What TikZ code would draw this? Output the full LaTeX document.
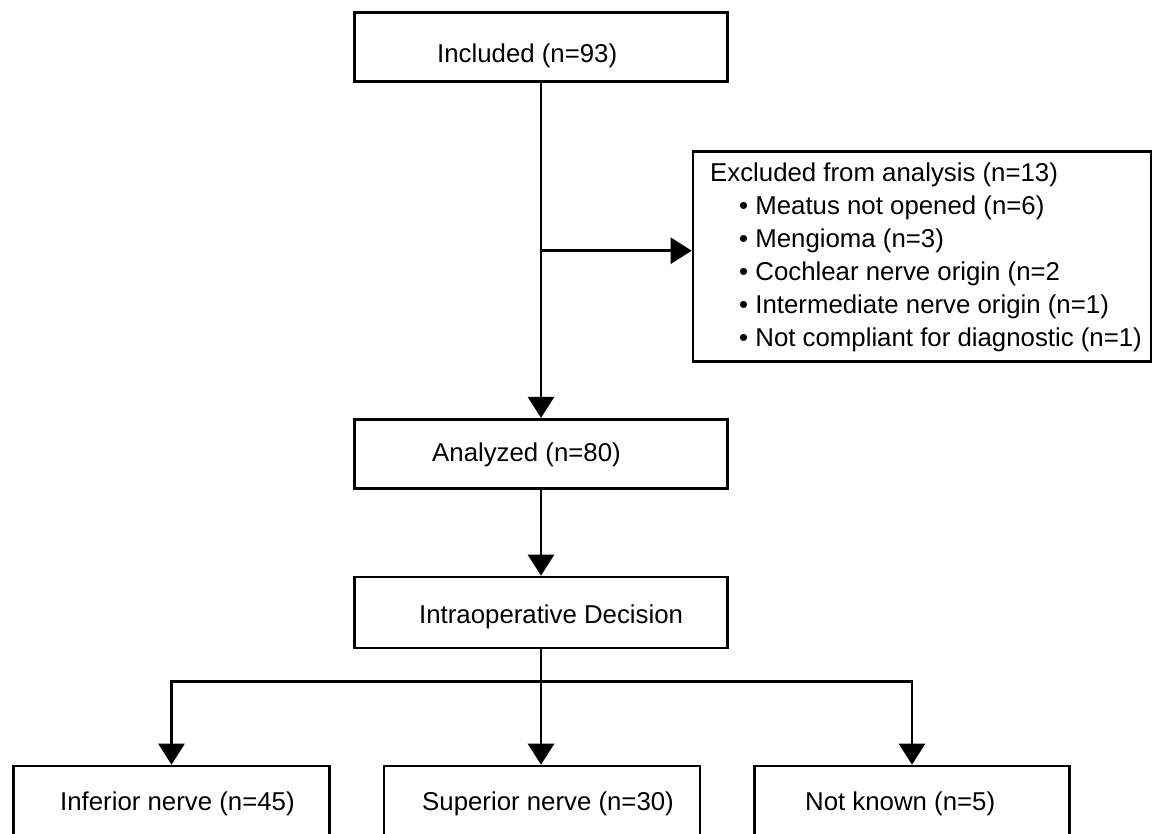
\documentclass[tikz,border=0pt]{standalone}
\usepackage{fontspec}
\setmainfont{Liberation Sans}
\usetikzlibrary{arrows.meta,calc}
\begin{document}
\begin{tikzpicture}[x=1pt,y=-1pt,
  box/.style={draw,line width=2.6pt,rectangle,inner sep=0pt},
  txt/.style={inner sep=0pt,anchor=base west,font=\fontsize{25.8}{30}\selectfont},
  conn/.style={line width=2.6pt},
  arr/.style={line width=2.6pt,-{Triangle[length=21pt,width=26pt]}}]
\useasboundingbox (0,0) rectangle (1157,834);
\fill[white] (0,0) rectangle (1157,834);
\clip (0,0) rectangle (1157,834);
% boxes
\node[box,minimum width=373pt,minimum height=69pt] (inc) at (541,47.2) {};
\node[box,minimum width=458pt,minimum height=210pt] (exc) at (922,256.7) {};
\node[box,minimum width=373pt,minimum height=69pt] (ana) at (541,453.7) {};
\node[box,minimum width=373pt,minimum height=71pt] (intra) at (541,612.5) {};
\node[box,minimum width=316pt,minimum height=70pt] (inf) at (171.5,801) {};
\node[box,minimum width=316pt,minimum height=70pt] (sup) at (542,801) {};
\node[box,minimum width=315pt,minimum height=70pt] (nk) at (912,801) {};
% texts
\node[txt] (tinc) at (437,62.7) {Included (n=93)};
\node[txt] (tana) at (432,461.7) {Analyzed (n=80)};
\node[txt] (tintra) at (419,623.3) {Intraoperative Decision};
\node[txt] (tinf) at (60,810) {Inferior nerve (n=45)};
\node[txt] (tsup) at (422,810) {Superior nerve (n=30)};
\node[txt] (tnk) at (805,810) {Not known (n=5)};
\node[txt] (e1) at (710,182) {Excluded from analysis (n=13)};
\node[txt] (e2) at (739,215) {• Meatus not opened (n=6)};
\node[txt] (e3) at (739,248) {• Mengioma (n=3)};
\node[txt] (e4) at (739,281) {• Cochlear nerve origin (n=2};
\node[txt] (e5) at (739,314) {• Intermediate nerve origin (n=1)};
\node[txt] (e6) at (739,347) {• Not compliant for diagnostic (n=1)};
% connectors
\draw[arr] (inc.south) -- (ana.north);
\coordinate (j) at (541,250.7);
\draw[arr] (j) -- (j -| exc.west);
\draw[arr] (ana.south) -- (intra.north);
\coordinate (split) at (541,681.7);
\draw[conn] (intra.south) -- (split);
\draw[arr] (split) -| (inf.north);
\draw[arr] (split) -- (split |- sup.north);
\draw[arr] (split) -| (nk.north);
\end{tikzpicture}
\end{document}
